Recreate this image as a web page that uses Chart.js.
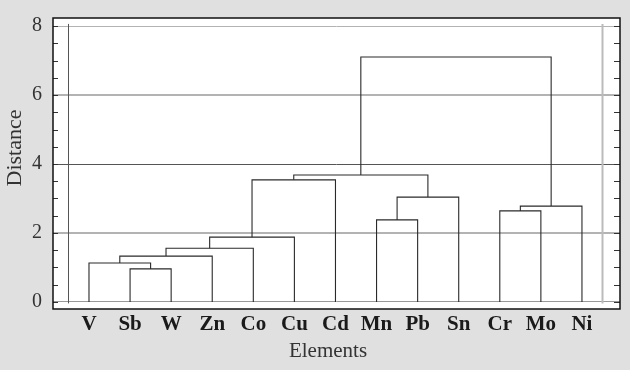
<!DOCTYPE html>
<html>
<head>
<meta charset="utf-8">
<script src="https://cdn.jsdelivr.net/npm/chart.js@4/dist/chart.umd.min.js"></script>
<style>
  body { margin: 0; background: #e0e0e0; }
  canvas { display: block; }
</style>
</head>
<body>
<canvas id="chart_dendrogram" width="630" height="370"></canvas>
<script>
// leaves, left to right
const elements = ["V", "Sb", "W", "Zn", "Co", "Cu", "Cd", "Mn", "Pb", "Sn", "Cr", "Mo", "Ni"];

// merges: node ids 0..12 are leaves, each merge creates node 13, 14, ...
const mergeA = [1, 0, 14, 15, 16, 7, 10, 19, 18, 17, 22, 23];
const mergeB = [2, 13, 3, 4, 5, 8, 11, 12, 9, 6, 21, 20];
const mergeHeight = [0.96, 1.13, 1.33, 1.56, 1.88, 2.38, 2.64, 2.78, 3.04, 3.54, 3.68, 7.10];

const yTicks = [0, 2, 4, 6, 8];
const yMinorStep = 0.5;

// node positions
var nodeX = elements.map(function (_, i) { return i; });
var nodeY = elements.map(function () { return 0; });
var links = [];
for (var m = 0; m < mergeA.length; m++) {
  var a = mergeA[m], b = mergeB[m], h = mergeHeight[m];
  links.push({
    data: [
      { x: nodeX[a], y: nodeY[a] },
      { x: nodeX[a], y: h },
      { x: nodeX[b], y: h },
      { x: nodeX[b], y: nodeY[b] }
    ],
    showLine: true,
    borderColor: "#2a2a2a",
    borderWidth: 1.1,
    pointRadius: 0,
    fill: false
  });
  nodeX.push((nodeX[a] + nodeX[b]) / 2);
  nodeY.push(h);
}

function gridColor(v) {
  if (v === 4) return "#555";
  if (v === 0) return "#999";
  return "#b3b3b3";
}
function gridWidth(v) {
  return (v === 6 || v === 2) ? 2 : 1;
}

const frame = {
  id: "frame",
  beforeDraw: function (chart) {
    var ctx = chart.ctx, area = chart.chartArea;
    ctx.save();
    ctx.fillStyle = "#e0e0e0";
    ctx.fillRect(0, 0, chart.width, chart.height);
    ctx.fillStyle = "#fff";
    ctx.fillRect(area.left, area.top, area.right - area.left, area.bottom - area.top);
    ctx.restore();
  },
  afterDatasetsDraw: function (chart) {
    var ctx = chart.ctx, area = chart.chartArea;
    var xs = chart.scales.x, ys = chart.scales.y;
    ctx.save();
    // inner box sides
    var yTop = ys.getPixelForValue(8.06), yBot = ys.getPixelForValue(-0.04);
    ctx.strokeStyle = "#555";
    ctx.lineWidth = 1;
    ctx.beginPath();
    ctx.moveTo(Math.round(xs.getPixelForValue(-0.5)) + 0.5, yTop);
    ctx.lineTo(Math.round(xs.getPixelForValue(-0.5)) + 0.5, yBot);
    ctx.stroke();
    ctx.strokeStyle = "#bbb";
    ctx.lineWidth = 2;
    ctx.beginPath();
    ctx.moveTo(xs.getPixelForValue(elements.length - 0.5), yTop);
    ctx.lineTo(xs.getPixelForValue(elements.length - 0.5), yBot);
    ctx.stroke();
    // minor ticks
    ctx.strokeStyle = "#333";
    ctx.lineWidth = 1;
    for (var v = 0; v <= 8; v += yMinorStep) {
      var py = Math.round(ys.getPixelForValue(v)) + 0.5;
      ctx.beginPath();
      ctx.moveTo(area.left, py);
      ctx.lineTo(area.left + 5, py);
      ctx.moveTo(area.right - 6, py);
      ctx.lineTo(area.right, py);
      ctx.stroke();
    }
    // frame
    ctx.strokeStyle = "#111";
    ctx.lineWidth = 1.5;
    ctx.strokeRect(area.left, area.top, area.right - area.left, area.bottom - area.top);
    // axis titles
    ctx.fillStyle = "#333";
    ctx.font = "21px 'Liberation Serif'";
    ctx.textAlign = "center";
    ctx.textBaseline = "middle";
    ctx.fillText("Elements", 328, 351);
    ctx.font = "22px 'Liberation Serif'";
    ctx.translate(15, 148);
    ctx.rotate(-Math.PI / 2);
    ctx.fillText("Distance", 0, 0);
    ctx.restore();
  }
};

new Chart(document.getElementById("chart_dendrogram"), {
  type: "scatter",
  data: { datasets: links },
  plugins: [frame],
  options: {
    responsive: false,
    animation: false,
    layout: { padding: { left: 0, top: 18, right: 10, bottom: 0 } },
    plugins: { legend: false, tooltip: { enabled: false } },
    scales: {
      x: {
        type: "linear",
        min: -0.876,
        max: 12.926,
        afterBuildTicks: function (scale) {
          scale.ticks = elements.map(function (_, i) { return { value: i }; });
        },
        afterFit: function (scale) {
          scale.height = 61;
          scale.paddingLeft = 0;
          scale.paddingRight = 0;
        },
        grid: { display: false, drawTicks: false },
        border: { display: false },
        ticks: {
          autoSkip: false,
          maxRotation: 0,
          padding: 3,
          color: "#1a1a1a",
          font: { family: "'Liberation Serif'", size: 21, weight: "bold" },
          callback: function (v) { return elements[v]; }
        }
      },
      y: {
        min: -0.203,
        max: 8.232,
        afterBuildTicks: function (scale) {
          scale.ticks = yTicks.map(function (v) { return { value: v }; });
        },
        afterFit: function (scale) {
          scale.width = 53;
          scale.paddingTop = 0;
          scale.paddingBottom = 0;
        },
        grid: {
          drawTicks: false,
          color: function (c) { return gridColor(c.tick.value); },
          lineWidth: function (c) { return gridWidth(c.tick.value); }
        },
        border: { display: false },
        ticks: {
          padding: 11,
          color: "#333",
          font: { family: "'Liberation Serif'", size: 20 }
        }
      }
    }
  }
});
</script>
</body>
</html>
